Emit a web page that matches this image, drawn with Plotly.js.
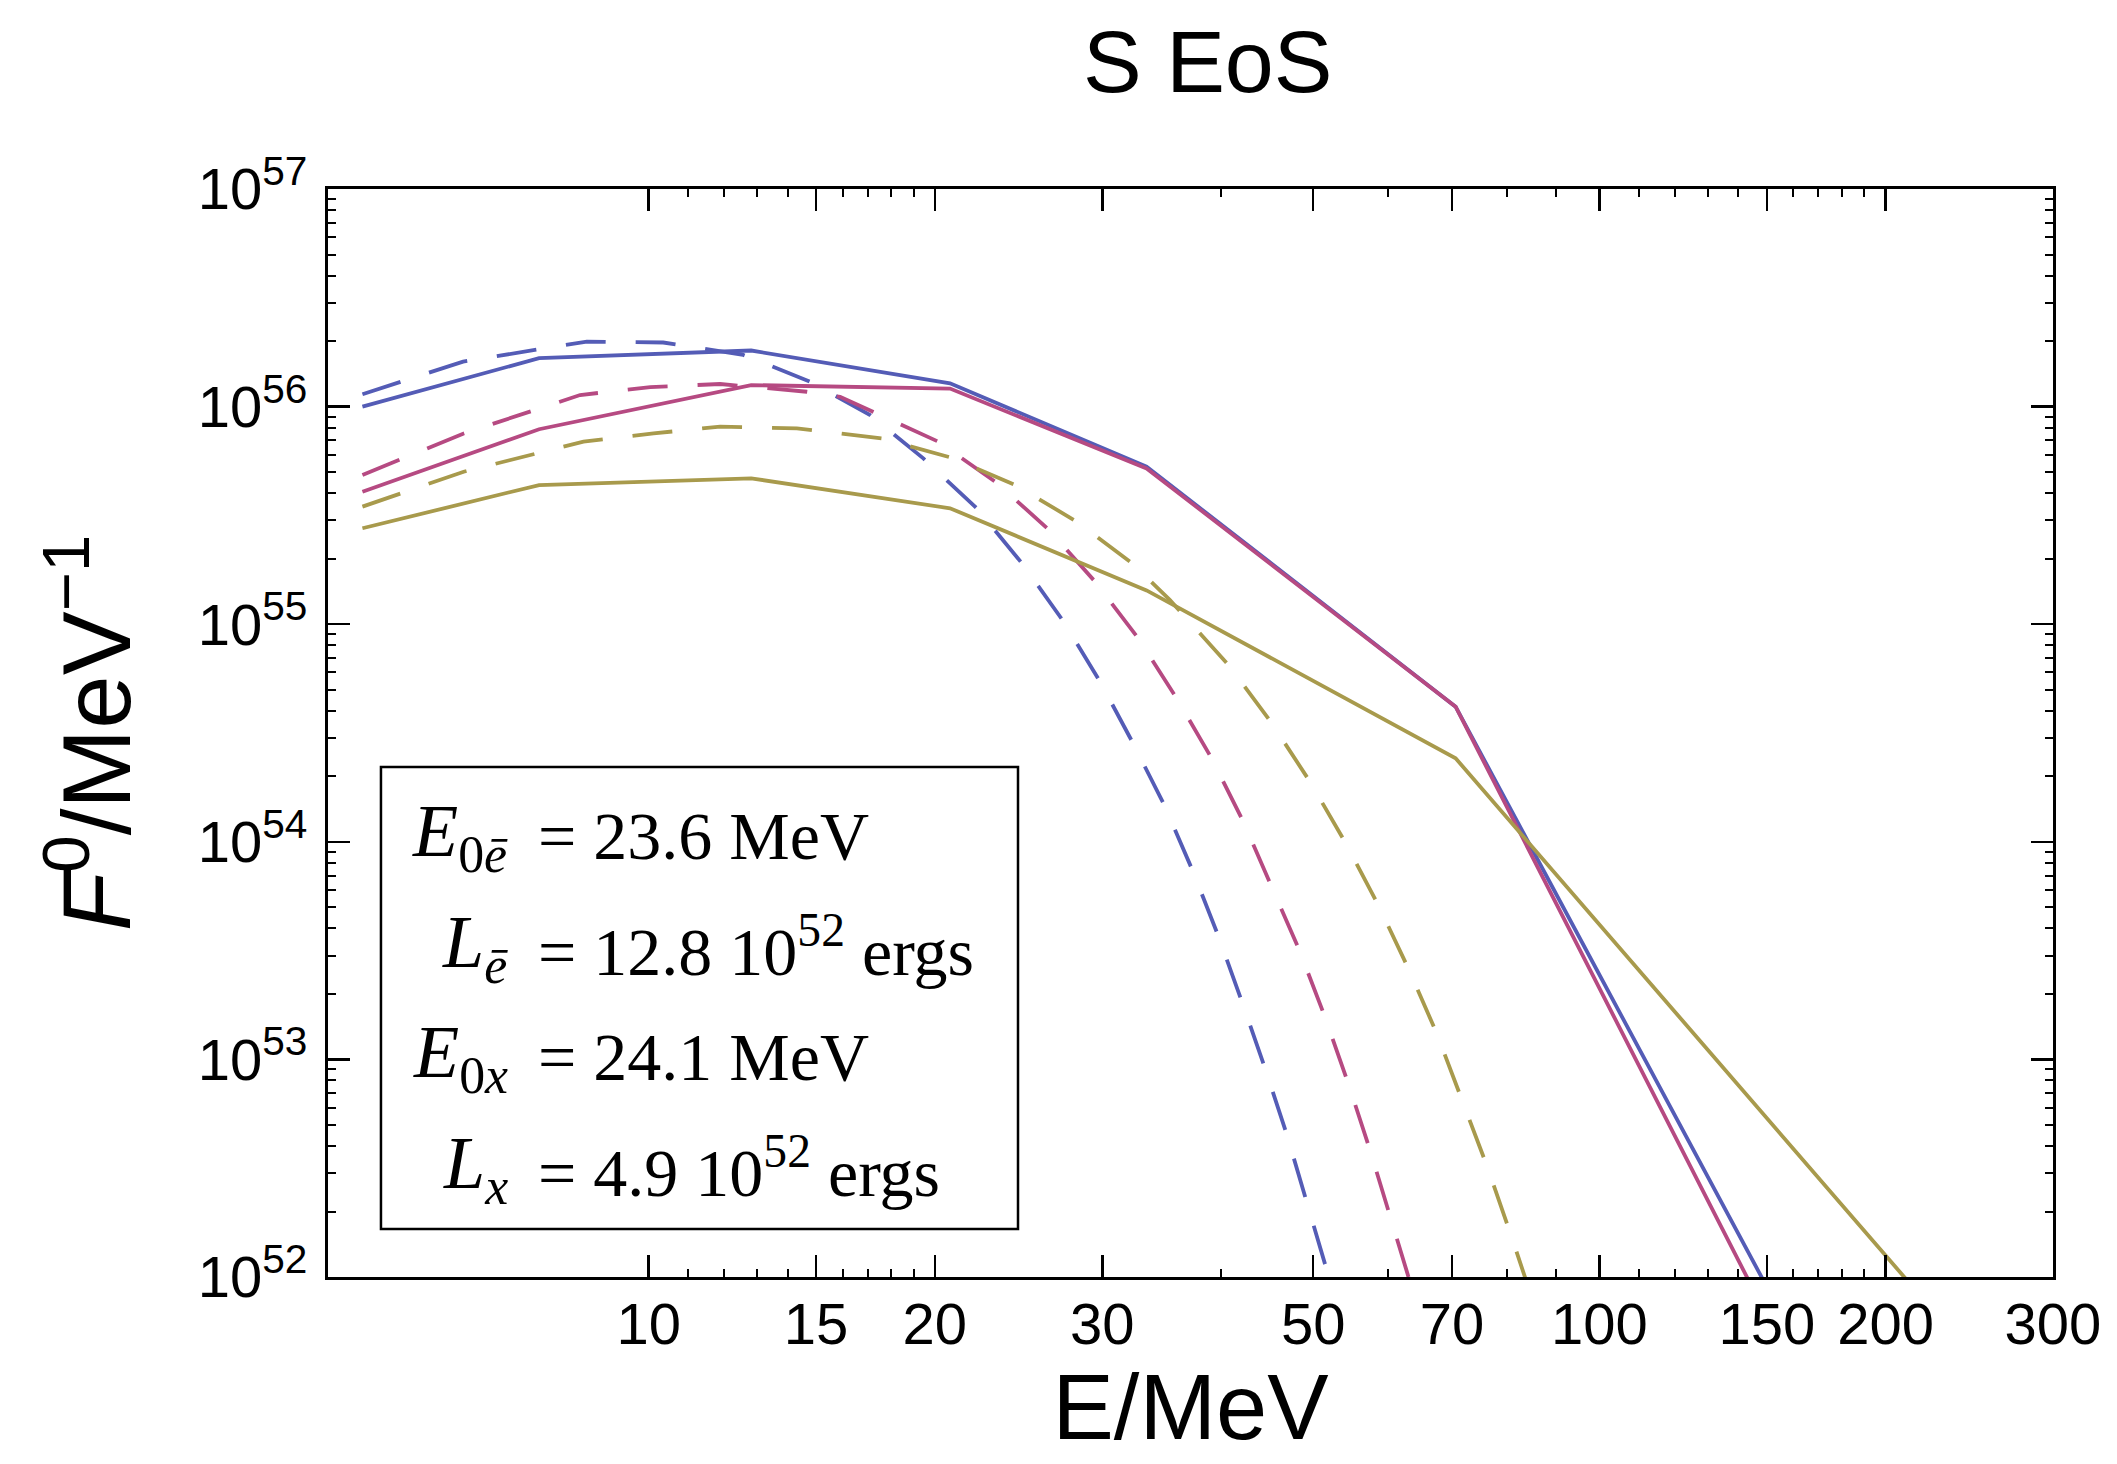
<!DOCTYPE html>
<html>
<head>
<meta charset="utf-8">
<script src="https://cdn.plot.ly/plotly-3.0.1.min.js"></script>
<style>
  html, body { margin: 0; padding: 0; background: #ffffff; }
  #chart { width: 2117px; height: 1464px; }
</style>
</head>
<body>
<div id="chart"></div>
<script>
// ---- Data (E in MeV, F0 in MeV^-1) ----
// Solid curves (piecewise linear in log-log)
const eBlueSolid = [5.0, 7.67, 12.82, 20.75, 33.4, 70.6, 155];
const fBlueSolid = [1.0e56, 1.67e56, 1.81e56, 1.28e56, 5.3e55, 4.18e54, 6.9e51];

const eMagentaSolid = [5.0, 7.67, 12.82, 20.75, 33.4, 70.6, 155];
const fMagentaSolid = [4.06e55, 7.87e55, 1.256e56, 1.21e56, 5.2e55, 4.18e54, 5.0e51];

const eYellowSolid = [5.0, 7.67, 12.82, 20.75, 33.4, 70.6, 230];
const fYellowSolid = [2.76e55, 4.36e55, 4.68e55, 3.41e55, 1.43e55, 2.42e54, 6.2e51];

// Dashed curves (smooth spectra)
const eBlueDashed = [5.0, 6.38, 8.61, 10.36, 12.57, 14.79, 17.10, 19.45, 22.14, 24.69, 27.31, 29.84, 32.32, 34.93, 37.38, 39.70, 42.08, 44.49, 46.92, 49.24, 51.95, 53.0];
const fBlueDashed = [1.14e56, 1.61e56, 1.99e56, 1.97e56, 1.73e56, 1.30e56, 9.14e55, 5.78e55, 3.41e55, 1.91e55, 1.03e55, 5.45e54, 2.84e54, 1.45e54, 7.29e53, 3.73e53, 1.84e53, 9.12e52, 4.50e52, 2.19e52, 1.0e52, 7.4e51];

const eMagentaDashed = [5.0, 6.39, 8.47, 10.04, 11.89, 14.67, 15.90, 20.17, 23.23, 26.33, 29.48, 32.73, 35.93, 39.10, 42.21, 45.22, 48.42, 51.44, 54.43, 57.37, 60.21, 62.95, 64.5];
const fMagentaDashed = [4.85e55, 7.53e55, 1.13e56, 1.23e56, 1.27e56, 1.17e56, 1.11e56, 6.90e55, 4.47e55, 2.73e55, 1.57e55, 8.61e54, 4.56e54, 2.42e54, 1.24e54, 6.22e53, 3.13e53, 1.57e53, 7.76e52, 3.84e52, 1.89e52, 1.0e52, 7.1e51];

const eYellowDashed = [5.0, 6.39, 8.54, 10.12, 11.89, 14.32, 17.59, 20.75, 24.29, 28.20, 32.22, 35.35, 40.88, 45.22, 49.61, 54.0, 58.53, 62.95, 67.43, 71.62, 76.10, 80.52, 83.5, 86.0];
const fYellowDashed = [3.47e55, 5.02e55, 6.90e55, 7.53e55, 8.09e55, 7.94e55, 7.14e55, 5.85e55, 4.37e55, 2.96e55, 1.91e55, 1.29e55, 6.38e54, 3.51e54, 1.89e54, 1.0e54, 5.13e53, 2.62e53, 1.32e53, 6.62e52, 3.27e52, 1.61e52, 1.0e52, 6.8e51];

// Tick labels
const xTickVals = [10, 15, 20, 30, 50, 70, 100, 150, 200, 300];
const xTickText = ['10', '15', '20', '30', '50', '70', '100', '150', '200', '300'];
const xMinorVals = [11, 12, 13, 14, 16, 17, 18, 19, 40, 60, 80, 90, 110, 120, 130, 140, 160, 170, 180, 190];
const yTickVals = [1e52, 1e53, 1e54, 1e55, 1e56, 1e57];
const yTickText = ['10<sup>52</sup>', '10<sup>53</sup>', '10<sup>54</sup>', '10<sup>55</sup>', '10<sup>56</sup>', '10<sup>57</sup>'];

// Inset box text
const boxLhs = ['<i>E</i><sub>0<i>ē</i></sub>', '<i>L</i><sub><i>ē</i></sub>', '<i>E</i><sub>0<i>x</i></sub>', '<i>L</i><sub><i>x</i></sub>'];
const boxRhs = ['= 23.6 MeV', '= 12.8 10<sup>52</sup> ergs', '= 24.1 MeV', '= 4.9 10<sup>52</sup> ergs'];

// ---- Styling ----
const BLUE = 'rgb(84,92,182)';
const MAGENTA = 'rgb(182,74,130)';
const OLIVE = 'rgb(168,154,76)';
const DASH = '40px,30px';
const LW = 3.8;

// minor y ticks: 2..9 x each decade
const yMinorVals = [];
for (let d = 52; d < 57; d++) {
  for (let m = 2; m <= 9; m++) yMinorVals.push(m * Math.pow(10, d));
}

const traces = [
  {x: eBlueDashed, y: fBlueDashed, mode: 'lines', line: {color: BLUE, width: LW, dash: DASH}},
  {x: eMagentaDashed, y: fMagentaDashed, mode: 'lines', line: {color: MAGENTA, width: LW, dash: DASH}},
  {x: eYellowDashed, y: fYellowDashed, mode: 'lines', line: {color: OLIVE, width: LW, dash: DASH}},
  {x: eBlueSolid, y: fBlueSolid, mode: 'lines', line: {color: BLUE, width: LW}},
  {x: eMagentaSolid, y: fMagentaSolid, mode: 'lines', line: {color: MAGENTA, width: LW}},
  {x: eYellowSolid, y: fYellowSolid, mode: 'lines', line: {color: OLIVE, width: LW}}
];

const SERIF = 'Liberation Serif, Times New Roman, serif';
const annotations = [];
const lineY = [0.405, 0.303, 0.202, 0.100];
for (let i = 0; i < boxLhs.length; i++) {
  annotations.push({xref: 'paper', yref: 'paper', x: 0.1055, y: lineY[i], xanchor: 'right', yanchor: 'middle',
    text: boxLhs[i], showarrow: false, font: {family: SERIF, size: 74, color: 'black'}});
  annotations.push({xref: 'paper', yref: 'paper', x: 0.1205, y: lineY[i], xanchor: 'left', yanchor: 'middle',
    text: boxRhs[i], showarrow: false, font: {family: SERIF, size: 68, color: 'black'}});
}

const axisCommon = {
  showline: true, linewidth: 3, linecolor: 'black', mirror: 'allticks',
  ticks: 'inside', ticklen: 22, tickwidth: 2.5, tickcolor: 'black',
  showgrid: false, zeroline: false, automargin: false,
  tickfont: {size: 58, color: 'black', family: 'Liberation Sans, Arial, sans-serif'}
};

const layout = {
  width: 2117, height: 1464,
  margin: {l: 328, r: 64, t: 189, b: 187, pad: 0},
  paper_bgcolor: 'white', plot_bgcolor: 'white',
  font: {family: 'Liberation Sans, Arial, sans-serif', color: 'black'},
  showlegend: false,
  title: {text: 'S EoS', font: {size: 88, color: 'black'}, xref: 'paper', x: 0.51, xanchor: 'center',
          yref: 'container', y: 0.958, yanchor: 'middle'},
  xaxis: Object.assign({}, axisCommon, {
    type: 'log', range: [Math.log10(4.6), Math.log10(300)],
    tickmode: 'array', tickvals: xTickVals, ticktext: xTickText, ticklabelstandoff: -6,
    minor: {tickmode: 'array', tickvals: xMinorVals, ticks: 'inside', ticklen: 8, tickwidth: 2, tickcolor: 'black', showgrid: false},
    title: {text: 'E/MeV', font: {size: 92, color: 'black'}, standoff: 18}
  }),
  yaxis: Object.assign({}, axisCommon, {
    type: 'log', range: [52, 57],
    tickmode: 'array', tickvals: yTickVals, ticktext: yTickText, ticklabelstandoff: 6,
    minor: {tickmode: 'array', tickvals: yMinorVals, ticks: 'inside', ticklen: 8, tickwidth: 2, tickcolor: 'black', showgrid: false},
    title: {text: '<i>F</i><sup>0</sup>/MeV<sup>−1</sup>', font: {size: 96, color: 'black'}, standoff: 36}
  }),
  shapes: [
    {type: 'rect', xref: 'paper', yref: 'paper', x0: 0.0307, x1: 0.4, y0: 0.0441, y1: 0.4688,
     line: {color: 'black', width: 2.5}, fillcolor: 'rgba(255,255,255,0)'}
  ],
  annotations: annotations
};

Plotly.newPlot('chart', traces, layout, {staticPlot: true, displayModeBar: false});
</script>
</body>
</html>
